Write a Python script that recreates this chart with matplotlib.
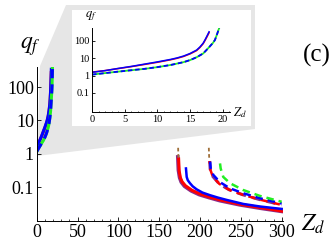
import matplotlib
matplotlib.use('Agg')
import matplotlib.pyplot as plt
import matplotlib.ticker as mticker
from matplotlib.patches import Polygon, Rectangle
import numpy as np

plt.rcParams['font.family'] = ['Liberation Serif', 'DejaVu Serif']
plt.rcParams['mathtext.fontset'] = 'stix'

# ---- data ----
# low branch (shown in main plot and in the inset)
z_solid = [0, 2, 4, 6, 8, 10, 12, 13, 14, 15, 16, 16.5, 17, 17.3, 17.6, 17.9]
q_solid_blue = [1.55, 1.95, 2.6, 3.4, 4.6, 6.2, 8.6, 10.5, 13.5, 19, 30, 45, 75, 120, 200, 340]
q_solid_red = [1.6, 1.95, 2.55, 3.3, 4.4, 5.9, 8.2, 10.0, 12.8, 18, 28, 42, 70, 110, 180, 300]
z_dash = [0, 2, 4, 6, 8, 10, 12, 14, 15, 16, 17, 17.5, 18, 18.5, 18.8, 19.2, 19.5]
q_dash = [1.15, 1.4, 1.7, 2.05, 2.45, 3.1, 4.1, 6.0, 7.9, 11.5, 19, 30, 48, 78, 115, 300, 650]

# high branch (main plot only)
z_blue_hi = [182.8, 183.7, 185, 187.7, 191, 195.9, 203, 212, 222, 232.6, 253, 273.4, 300]
q_blue_hi = [0.36, 0.20, 0.16, 0.13, 0.105, 0.085, 0.068, 0.057, 0.048, 0.041, 0.031, 0.026, 0.022]
z_red_hi = [173.8, 174.5, 176, 178, 182, 190, 200, 212, 225, 250, 275, 300]
q_red_hi = [0.7, 0.3, 0.19, 0.145, 0.11, 0.08, 0.062, 0.05, 0.041, 0.030, 0.024, 0.019]
z_purple_hi = [172.8, 173.5, 175, 177, 181, 189, 199, 211, 224, 249, 274, 300]
q_purple_hi = [0.8, 0.32, 0.19, 0.14, 0.105, 0.077, 0.059, 0.048, 0.039, 0.029, 0.023, 0.0185]
z_bluedash_hi = [212.4, 213.1, 216.3, 224.4, 236.7, 253, 273.4, 300]
q_bluedash_hi = [0.58, 0.36, 0.23, 0.14, 0.091, 0.065, 0.046, 0.032]
z_reddash_hi = [211.8, 212.5, 215.5, 223.5, 235.5, 252, 273, 300]
q_reddash_hi = [0.6, 0.34, 0.21, 0.125, 0.083, 0.059, 0.042, 0.029]
z_green_hi = [224.5, 225.3, 228.5, 236.7, 253, 273.4, 300]
q_green_hi = [0.51, 0.36, 0.20, 0.13, 0.081, 0.054, 0.036]
z_brown_1 = [173.2, 173.4, 173.6]
z_brown_2 = [210.8, 211.0, 211.3]
q_brown = [1.5, 1.0, 0.7]

y_ticks = [0.1, 1, 10, 100]
y_ticklabels = ['0.1', '1', '10', '100']
x_ticks_main = [0, 50, 100, 150, 200, 250, 300]
x_ticks_inset = [0, 5, 10, 15, 20]

BLUE = '#0000ff'
RED = '#ff0000'
GREEN = '#22ee22'
PURPLE = '#8a2b8a'
BROWN = '#a0703a'

W, H = 335, 248


def fx(px):
    return px / W


def fy(py):
    return 1 - py / H


def style_axes(ax, fs, minor_x):
    ax.set_facecolor('none')
    ax.spines['top'].set_visible(False)
    ax.spines['right'].set_visible(False)
    ax.set_yscale('log')
    ax.yaxis.set_major_locator(mticker.FixedLocator(y_ticks))
    ax.yaxis.set_major_formatter(mticker.FixedFormatter(y_ticklabels))
    ax.yaxis.set_minor_locator(mticker.LogLocator(base=10, subs=np.arange(2, 10)))
    ax.yaxis.set_minor_formatter(mticker.NullFormatter())
    ax.xaxis.set_minor_locator(mticker.MultipleLocator(minor_x))
    ax.tick_params(which='both', direction='in', labelsize=fs, pad=2)
    ax.tick_params(which='major', length=3, width=0.6)
    ax.tick_params(which='minor', length=1.5, width=0.5)
    for s in ('left', 'bottom'):
        ax.spines[s].set_linewidth(0.7)


fig = plt.figure(figsize=(3.35, 2.48), dpi=100)

# gray zoom projection and inset frame
proj = Polygon([(fx(40), fy(66)), (fx(66), fy(5)), (fx(255), fy(5)), (fx(255), fy(129)),
                (fx(37), fy(156))], closed=True, transform=fig.transFigure,
               facecolor='#e6e6e6', edgecolor='none', zorder=-2)
fig.patches.append(proj)

# main axes
ax = fig.add_axes([fx(36.7), fy(221), 246.6 / W, 154 / H])
ax.set_zorder(1)
style_axes(ax, 13, 10)
ax.set_xlim(0, 302)
ax.set_ylim(10 ** -2.02, 10 ** 2.6)
ax.set_xticks(x_ticks_main)

ax.plot(z_solid, q_solid_red, color=RED, lw=2.2, solid_capstyle='butt')
ax.plot(z_solid, q_solid_blue, color=BLUE, lw=2.2)
ax.plot(z_dash, q_dash, color=GREEN, lw=2.2)
ax.plot(z_dash, q_dash, color=BLUE, lw=2.2, dashes=(3, 2))

ax.plot(z_purple_hi, q_purple_hi, color=PURPLE, lw=2.6)
ax.plot(z_red_hi, q_red_hi, color=RED, lw=2.2)
ax.plot(z_blue_hi, q_blue_hi, color=BLUE, lw=1.8)
ax.plot(z_reddash_hi, q_reddash_hi, color=PURPLE, lw=2.2, dashes=(3, 2))
ax.plot(z_reddash_hi, q_reddash_hi, color=RED, lw=1.8, linestyle=(2, (3, 2)))
ax.plot(z_bluedash_hi, q_bluedash_hi, color=BLUE, lw=1.8, dashes=(3, 2))
ax.plot(z_green_hi, q_green_hi, color=GREEN, lw=1.8, dashes=(3, 2))
ax.plot(z_brown_1, q_brown, color=BROWN, lw=1.3, dashes=(2, 1.5))
ax.plot(z_brown_2, q_brown, color=BROWN, lw=1.3, dashes=(2, 1.5))

fig.text(fx(30), fy(47), r'$q_f$', fontsize=17, ha='center', va='center')
fig.text(fx(313), fy(224), r'$Z_d$', fontsize=17, ha='center', va='center')
fig.text(fx(317), fy(55), '(c)', fontsize=18, ha='center', va='center')

# inset
box = Rectangle((fx(72), fy(126)), (251 - 72) / W, (126 - 10) / H, transform=fig.transFigure,
                facecolor='white', edgecolor='none', zorder=2)
fig.patches.append(box)
ins = fig.add_axes([fx(92), fy(112), 138 / W, 84 / H])
ins.set_zorder(3)
style_axes(ins, 7.5, 1)
ins.set_xlim(0, 21.1)
ins.set_ylim(10 ** -2.1, 10 ** 2.75)
ins.set_xticks(x_ticks_inset)
ins.tick_params(which='major', length=2)
ins.tick_params(which='minor', length=1)
ins.plot(z_solid, q_solid_red, color=RED, lw=1.1)
ins.plot(z_solid, q_solid_blue, color=BLUE, lw=1.1)
ins.plot(z_dash, q_dash, color=GREEN, lw=1.3)
ins.plot(z_dash, q_dash, color=BLUE, lw=1.3, dashes=(2.5, 1.5))
fig.text(fx(91), fy(16), r'$q_f$', fontsize=9, ha='center', va='center', zorder=4)
fig.text(fx(240), fy(113), r'$Z_d$', fontsize=9, ha='center', va='center', zorder=4)

fig.savefig('out.png', dpi=100)
